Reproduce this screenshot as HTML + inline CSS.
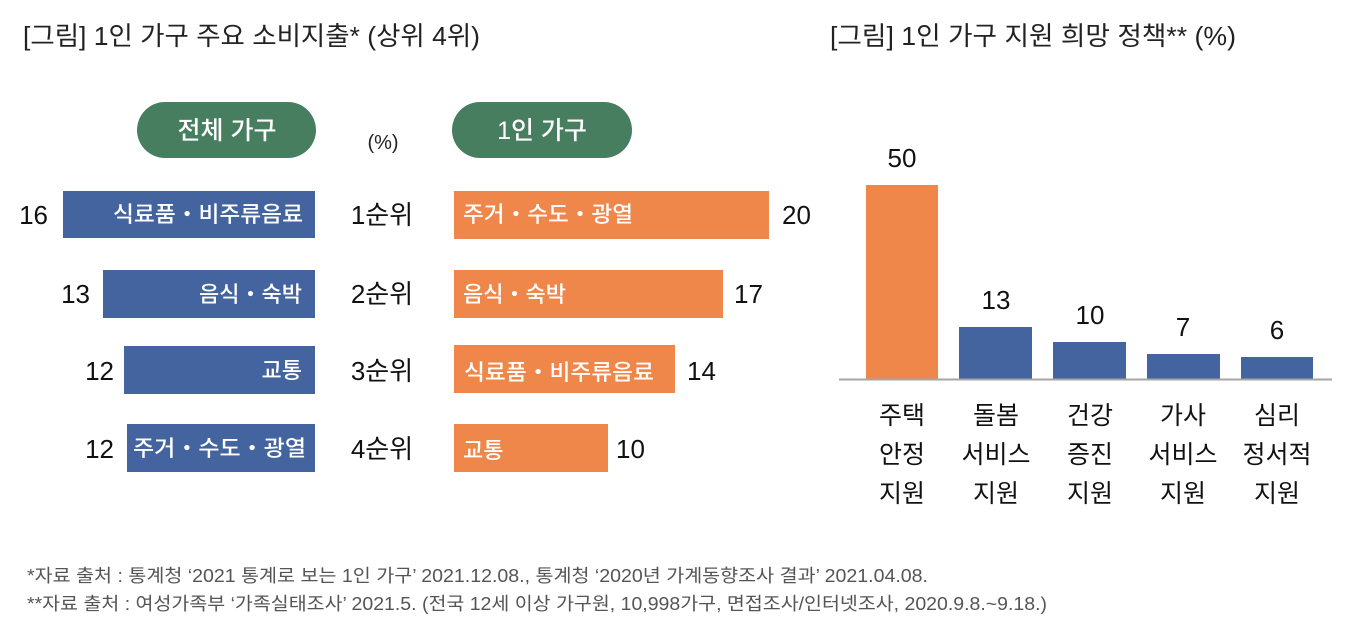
<!DOCTYPE html>
<html><head><meta charset="utf-8">
<style>
html,body{margin:0;padding:0;background:#fff;}
svg{display:block;}
text{font-family:"Liberation Sans","Noto Sans CJK KR",sans-serif;}
</style></head>
<body>
<svg width="1370" height="640" viewBox="0 0 1370 640" xmlns="http://www.w3.org/2000/svg">
<rect width="1370" height="640" fill="#fff"/>
<!-- Titles -->
<text x="23" y="45" font-size="26" fill="#222" textLength="457" lengthAdjust="spacingAndGlyphs">[그림] 1인 가구 주요 소비지출* (상위 4위)</text>
<text x="830" y="45" font-size="26" fill="#222" textLength="406" lengthAdjust="spacingAndGlyphs">[그림] 1인 가구 지원 희망 정책** (%)</text>

<!-- Pills -->
<rect x="137" y="102" width="179" height="56" rx="28" fill="#477e60"/>
<text x="227" y="139" font-size="25" fill="#fff" text-anchor="middle" font-weight="500">전체 가구</text>
<rect x="452" y="102" width="180" height="56" rx="28" fill="#477e60"/>
<text x="542" y="139" font-size="25" fill="#fff" text-anchor="middle" font-weight="500">1인 가구</text>
<text x="383" y="149" font-size="20" fill="#222" text-anchor="middle">(%)</text>

<!-- Left blue bars -->
<rect x="63" y="191" width="252" height="47" fill="#43649f"/>
<rect x="103" y="270" width="212" height="48" fill="#43649f"/>
<rect x="124" y="346" width="191" height="48" fill="#43649f"/>
<rect x="127" y="424" width="188" height="48" fill="#43649f"/>
<g font-size="22" fill="#fff" text-anchor="end" font-weight="500">
<text x="303" y="222" textLength="190" lengthAdjust="spacingAndGlyphs">식료품・비주류음료</text>
<text x="302" y="302">음식・숙박</text>
<text x="302" y="378">교통</text>
<text x="306" y="456" textLength="173" lengthAdjust="spacingAndGlyphs">주거・수도・광열</text>
</g>
<g font-size="26" fill="#111" text-anchor="end">
<text x="48" y="224">16</text>
<text x="90" y="303">13</text>
<text x="114" y="380">12</text>
<text x="114" y="458">12</text>
</g>

<!-- Rank labels -->
<g font-size="26" fill="#111" text-anchor="middle">
<text x="382" y="224">1순위</text>
<text x="382" y="303">2순위</text>
<text x="382" y="380">3순위</text>
<text x="382" y="458">4순위</text>
</g>

<!-- Right orange bars -->
<rect x="454" y="191" width="315" height="48" fill="#ef874a"/>
<rect x="454" y="270" width="269" height="48" fill="#ef874a"/>
<rect x="454" y="345" width="221" height="48" fill="#ef874a"/>
<rect x="454" y="424" width="154" height="48" fill="#ef874a"/>
<g font-size="22" fill="#fff" font-weight="500">
<text x="463" y="222" textLength="170" lengthAdjust="spacingAndGlyphs">주거・수도・광열</text>
<text x="463" y="302">음식・숙박</text>
<text x="464" y="380" textLength="190" lengthAdjust="spacingAndGlyphs">식료품・비주류음료</text>
<text x="463" y="458">교통</text>
</g>
<g font-size="26" fill="#111">
<text x="782" y="224">20</text>
<text x="734" y="303">17</text>
<text x="687" y="380">14</text>
<text x="616" y="458">10</text>
</g>

<!-- Right chart -->
<rect x="866" y="185" width="72" height="194" fill="#ef874a"/>
<rect x="959" y="327" width="73" height="52" fill="#43649f"/>
<rect x="1053" y="342" width="73" height="37" fill="#43649f"/>
<rect x="1147" y="354" width="73" height="25" fill="#43649f"/>
<rect x="1241" y="357" width="72" height="22" fill="#43649f"/>
<line x1="839" y1="379.5" x2="1332" y2="379.5" stroke="#a6a6a6" stroke-width="2"/>
<g font-size="26" fill="#111" text-anchor="middle">
<text x="902" y="167">50</text>
<text x="996" y="309">13</text>
<text x="1090" y="324">10</text>
<text x="1183" y="336">7</text>
<text x="1277" y="339">6</text>
</g>
<g font-size="25" fill="#111" text-anchor="middle">
<text x="902" y="424">주택</text>
<text x="902" y="463">안정</text>
<text x="902" y="502">지원</text>
<text x="996" y="424">돌봄</text>
<text x="996" y="463">서비스</text>
<text x="996" y="502">지원</text>
<text x="1090" y="424">건강</text>
<text x="1090" y="463">증진</text>
<text x="1090" y="502">지원</text>
<text x="1183" y="424">가사</text>
<text x="1183" y="463">서비스</text>
<text x="1183" y="502">지원</text>
<text x="1277" y="424">심리</text>
<text x="1277" y="463">정서적</text>
<text x="1277" y="502">지원</text>
</g>

<!-- Footnotes -->
<g font-size="18" fill="#555">
<text x="27" y="582" textLength="901" lengthAdjust="spacingAndGlyphs">*자료 출처 : 통계청 ‘2021 통계로 보는 1인 가구’ 2021.12.08., 통계청 ‘2020년 가계동향조사 결과’ 2021.04.08.</text>
<text x="27" y="610" textLength="1020" lengthAdjust="spacingAndGlyphs">**자료 출처 : 여성가족부 ‘가족실태조사’ 2021.5. (전국 12세 이상 가구원, 10,998가구, 면접조사/인터넷조사, 2020.9.8.~9.18.)</text>
</g>
</svg>
</body></html>
